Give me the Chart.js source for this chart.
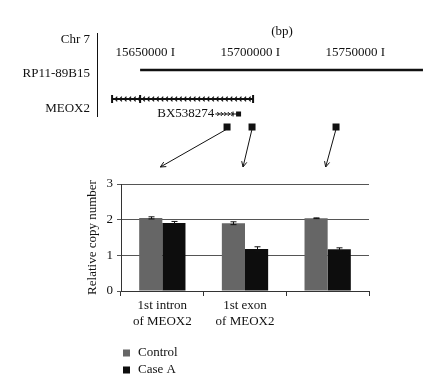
<!DOCTYPE html>
<html><head><meta charset="utf-8">
<script src="https://cdn.jsdelivr.net/npm/chart.js@4/dist/chart.umd.min.js"></script>
<style>html,body{margin:0;padding:0;background:#fff}canvas{display:block}</style>
</head><body>
<canvas id="c" width="434" height="385"></canvas>
<script>
// ---- bar chart data ----
const categories = [["1st intron","of MEOX2"],["1st exon","of MEOX2"],""];
const seriesNames = ["Control","Case A"];
const controlValues = [2.05,1.90,2.04];
const controlErrors = [0.03,0.04,0.01];
const caseAValues = [1.91,1.18,1.17];
const caseAErrors = [0.04,0.06,0.04];
const yTicks = [0,1,2,3];
const yTitle = "Relative copy number";

// ---- genome diagram data (bp) ----
const chromosomeLabel = "Chr 7";
const unitLabel = "(bp)";
const bpTicks = [15650000,15700000,15750000];
const bpTickLabels = ["15650000 I","15700000 I","15750000 I"];
const bpScaleRange = [15625200,15743300];
const cloneName = "RP11-89B15";
const cloneSpan = [15634300,15769000];
const geneName = "MEOX2";
const geneSpan = [15620950,15688100];
const geneExonMarks = [15620950,15634300,15688100];
const transcriptName = "BX538274";
const transcriptSpan = [15670100,15681900];
const primerPositions = [15675700,15687600,15727600];
const primerTargets = [0,1,2];

const SERIF = '"Liberation Serif", "DejaVu Serif", serif';
const INK = '#111';

const diagramPlugin = {
  id:'diagram',
  afterDraw(chart){
    const ctx = chart.ctx, bp = chart.scales.bp, xs = chart.scales.x;
    const X = v => bp.getPixelForValue(v);
    ctx.save();
    ctx.fillStyle = INK; ctx.strokeStyle = INK;
    ctx.font = '13px ' + SERIF;
    ctx.textBaseline = 'middle';
    ctx.textAlign = 'right';
    ctx.fillText(chromosomeLabel, 90, 40);
    ctx.fillText(cloneName, 90, 74);
    ctx.fillText(geneName, 90, 109);
    ctx.lineWidth = 1;
    ctx.beginPath(); ctx.moveTo(97.5,33); ctx.lineTo(97.5,117); ctx.stroke();
    ctx.textAlign = 'center';
    ctx.fillText(unitLabel, X(bpTicks[1]) + 4, 32);
    ctx.textAlign = 'right';
    bpTicks.forEach((t,i)=>ctx.fillText(bpTickLabels[i], X(t)+2, 53));
    // clone
    ctx.lineWidth = 2.5;
    ctx.beginPath(); ctx.moveTo(X(cloneSpan[0]),70); ctx.lineTo(X(cloneSpan[1]),70); ctx.stroke();
    // gene (minus strand)
    let gy = 99, g0 = X(geneSpan[0]), g1 = X(geneSpan[1]);
    ctx.lineWidth = 2;
    ctx.beginPath(); ctx.moveTo(g0,gy); ctx.lineTo(g1,gy); ctx.stroke();
    ctx.lineWidth = 1.2;
    for (let p = g0+3; p < g1-3; p += 4.6){
      ctx.beginPath(); ctx.moveTo(p+2.2,gy-2.3); ctx.lineTo(p,gy); ctx.lineTo(p+2.2,gy+2.3); ctx.stroke();
    }
    ctx.lineWidth = 2;
    geneExonMarks.forEach(m=>{const p=X(m); ctx.beginPath(); ctx.moveTo(p,gy-4); ctx.lineTo(p,gy+4); ctx.stroke();});
    // transcript
    ctx.textAlign = 'right';
    let ty = 114, t0 = X(transcriptSpan[0]), t1 = X(transcriptSpan[1]);
    ctx.fillText(transcriptName, t0-1, ty);
    ctx.lineWidth = 1;
    ctx.beginPath(); ctx.moveTo(t0,ty); ctx.lineTo(t1,ty); ctx.stroke();
    for (let p = t0+2; p < t1-8; p += 3.5){
      ctx.beginPath(); ctx.moveTo(p,ty-2); ctx.lineTo(p+2,ty); ctx.lineTo(p,ty+2); ctx.stroke();
    }
    ctx.beginPath(); ctx.moveTo(t1-7,ty-2.5); ctx.lineTo(t1-7,ty+2.5); ctx.stroke();
    ctx.fillRect(t1-4, ty-2.5, 5, 5);
    // primers + arrows
    primerPositions.forEach((p,i)=>{
      const px = X(p);
      ctx.fillRect(px-3.5, 123.5, 7, 7);
      const tx = xs.getPixelForValue(primerTargets[i]) - 2, ty2 = 167;
      const sx = px, sy = 129;
      ctx.lineWidth = 1;
      ctx.beginPath(); ctx.moveTo(sx,sy); ctx.lineTo(tx,ty2); ctx.stroke();
      const a = Math.atan2(ty2-sy, tx-sx), L = 6;
      ctx.beginPath();
      ctx.moveTo(tx - L*Math.cos(a-0.45), ty2 - L*Math.sin(a-0.45));
      ctx.lineTo(tx,ty2);
      ctx.lineTo(tx - L*Math.cos(a+0.45), ty2 - L*Math.sin(a+0.45));
      ctx.stroke();
    });
    // legend
    ctx.textAlign = 'left';
    chart.data.datasets.forEach((ds,i)=>{
      const y = 353 + i*17;
      ctx.fillStyle = ds.backgroundColor;
      ctx.fillRect(123, y-3.5, 7, 7);
      ctx.fillStyle = INK;
      ctx.fillText(ds.label, 138, y);
    });
    ctx.restore();
  }
};

const errorPlugin = {
  id:'errbars',
  afterDatasetsDraw(chart){
    const ctx = chart.ctx, ys = chart.scales.y;
    const errs = [controlErrors, caseAErrors];
    ctx.save();
    ctx.strokeStyle = '#111'; ctx.lineWidth = 1;
    chart.data.datasets.forEach((ds,di)=>{
      chart.getDatasetMeta(di).data.forEach((bar,i)=>{
        const v = ds.data[i], e = errs[di][i];
        const x = Math.round(bar.x)+0.5;
        const yt = ys.getPixelForValue(v+e), yb = ys.getPixelForValue(v-e);
        ctx.beginPath();
        ctx.moveTo(x,yt); ctx.lineTo(x,yb);
        ctx.moveTo(x-3,yt); ctx.lineTo(x+3,yt);
        ctx.moveTo(x-3,yb); ctx.lineTo(x+3,yb);
        ctx.stroke();
      });
    });
    ctx.restore();
  }
};

new Chart(document.getElementById('c'), {
  type:'bar',
  data:{
    labels: categories,
    datasets:[
      {label: seriesNames[0], data: controlValues, backgroundColor:'#666666', borderWidth:0},
      {label: seriesNames[1], data: caseAValues, backgroundColor:'#0d0d0d', borderWidth:0}
    ]
  },
  options:{
    responsive:false, animation:false,
    devicePixelRatio:1,
    layout:{padding:{top:184,left:85,right:65,bottom:0}},
    datasets:{bar:{categoryPercentage:0.56, barPercentage:1}},
    plugins:{legend:{display:false}, tooltip:{enabled:false}},
    scales:{
      x:{
        type:'category',
        grid:{offset:true, drawOnChartArea:false, drawTicks:true, tickLength:5, color:'#333'},
        border:{color:'#333'},
        ticks:{font:{family:SERIF,size:13}, color:INK, padding:2, maxRotation:0, autoSkip:false},
        afterFit(s){ s.height = 94; }
      },
      bp:{
        type:'linear', axis:'x', position:'top', display:false, offset:false,
        min: bpScaleRange[0], max: bpScaleRange[1]
      },
      y:{
        min:yTicks[0], max:yTicks[yTicks.length-1],
        afterBuildTicks(s){ s.ticks = yTicks.map(v=>({value:v})); },
        grid:{color:'#555', tickLength:4},
        border:{color:'#333'},
        ticks:{font:{family:SERIF,size:13}, color:INK, padding:4},
        title:{display:true, text:yTitle, font:{family:SERIF,size:13}, color:INK, padding:{top:0,bottom:0}},
        afterFit(s){ s.width = 36; }
      }
    }
  },
  plugins:[errorPlugin, diagramPlugin]
});
</script>
</body></html>
